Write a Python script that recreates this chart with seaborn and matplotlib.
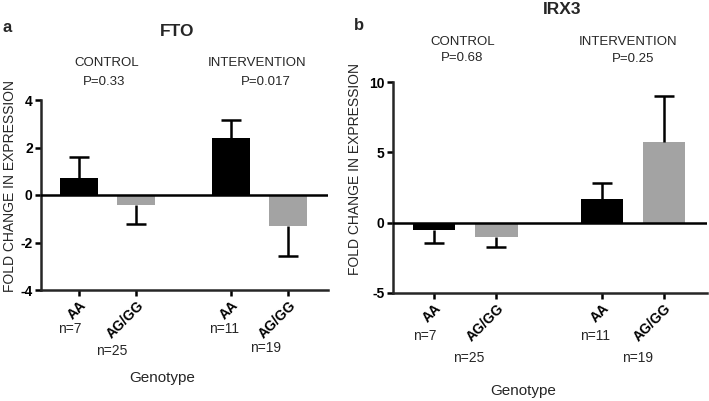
import numpy as np
import pandas as pd
import matplotlib
matplotlib.use("Agg")
import matplotlib.pyplot as plt
import seaborn as sns

# --- data ---
genotypes = ["AA", "AG/GG", "AA", "AG/GG"]
groups = ["CONTROL", "CONTROL", "INTERVENTION", "INTERVENTION"]
n_labels = ["n=7", "n=25", "n=11", "n=19"]

fto_mean = [0.72, -0.42, 2.4, -1.3]
fto_err = [0.88, 0.81, 0.76, 1.25]
fto_p = ["P=0.33", "P=0.017"]

irx3_mean = [-0.5, -1.0, 1.7, 5.7]
irx3_err = [0.95, 0.7, 1.1, 3.3]
irx3_p = ["P=0.68", "P=0.25"]

W, H = 709, 401
sns.set_theme(style="ticks")
plt.rcParams["font.family"] = ["Liberation Sans", "DejaVu Sans"]

palette = {"AA": "#000000", "AG/GG": "#a3a3a3"}


def px(x, y):
    return x / W, 1 - y / H


def panel(fig, rect, pos, means, errs, ylim, yticks, bar_w, n_off):
    l, t, r, b = rect
    ax = fig.add_axes([l / W, 1 - b / H, (r - l) / W, (b - t) / H])
    df = pd.DataFrame({"pos": pos, "genotype": genotypes, "mean": means, "err": errs})
    sns.barplot(data=df, x="pos", y="mean", hue="genotype", palette=palette,
                native_scale=True, dodge=False, width=bar_w, legend=False,
                errorbar=None, linewidth=0, ax=ax)
    # one-sided error bars in the direction of the bar
    sign = np.sign(df["mean"])
    ends = df["mean"] + sign * df["err"]
    ax.vlines(df["pos"], df["mean"], ends, color="black", lw=1.8, zorder=1)
    ax.plot(df["pos"], ends, ls="none", marker="_", ms=14, mew=1.8, color="black")
    ax.axhline(0, color="black", lw=1.8, zorder=3)

    ax.set_ylim(*ylim)
    ax.set_xlim(pos[0] - (pos[1] - pos[0]) * 0.66, pos[3] + 0.69)
    sns.despine(ax=ax)
    for s in ["left", "bottom"]:
        ax.spines[s].set_linewidth(1.8)
    ax.tick_params(width=1.8, length=4, pad=2, colors="black")
    ax.set_yticks(yticks, labels=[str(v) for v in yticks],
                  fontweight="bold", fontsize=10)
    ax.set_xticks(pos, labels=genotypes, rotation=45, ha="right",
                  rotation_mode="anchor", fontweight="bold", fontsize=10)
    ax.set_xlabel("")
    ax.set_ylabel("")

    trans = ax.get_xaxis_transform()
    for p, lab, (dx, dy) in zip(pos, n_labels, n_off):
        ax.text(p + dx, dy, lab, transform=trans, ha="center", va="center", fontsize=10)
    return ax


fig = plt.figure(figsize=(W / 100, H / 100), dpi=100)

# panel a: FTO
panel(fig, (41, 100, 328, 290), [0, 1, 2.64, 3.64], fto_mean, fto_err,
      (-4, 4), [-4, -2, 0, 2, 4], 0.66,
      [(-0.16, -0.205), (-0.43, -0.32), (-0.12, -0.205), (-0.4, -0.305)])
fig.text(*px(7, 27), "a", fontsize=12, fontweight="bold", ha="center", va="center")
fig.text(*px(177, 31), "FTO", fontsize=12.5, fontweight="bold", ha="center", va="center")
fig.text(*px(107, 63), groups[0], fontsize=9.5, ha="center", va="center")
fig.text(*px(104, 82), fto_p[0], fontsize=9.5, ha="center", va="center")
fig.text(*px(257, 63), groups[2], fontsize=9.5, ha="center", va="center")
fig.text(*px(266, 82), fto_p[1], fontsize=9.5, ha="center", va="center")
fig.text(*px(10, 186), "FOLD CHANGE IN EXPRESSION", fontsize=10, rotation=90,
         ha="center", va="center")
fig.text(*px(162, 378), "Genotype", fontsize=11, ha="center", va="center")

# panel b: IRX3
panel(fig, (393, 82, 707, 293), [0, 1, 2.69, 3.69], irx3_mean, irx3_err,
      (-5, 10), [-5, 0, 5, 10], 0.68,
      [(-0.15, -0.204), (-0.45, -0.308), (-0.1, -0.204), (-0.43, -0.308)])
fig.text(*px(359, 25), "b", fontsize=12, fontweight="bold", ha="center", va="center")
fig.text(*px(562, 10), "IRX3", fontsize=12.5, fontweight="bold", ha="center", va="center")
fig.text(*px(463, 42), groups[1], fontsize=9.5, ha="center", va="center")
fig.text(*px(462, 58), irx3_p[0], fontsize=9.5, ha="center", va="center")
fig.text(*px(628, 42), groups[3], fontsize=9.5, ha="center", va="center")
fig.text(*px(633, 59), irx3_p[1], fontsize=9.5, ha="center", va="center")
fig.text(*px(355, 169), "FOLD CHANGE IN EXPRESSION", fontsize=10, rotation=90,
         ha="center", va="center")
fig.text(*px(523, 391), "Genotype", fontsize=11, ha="center", va="center")

fig.savefig("out.png", dpi=100, facecolor="white")
